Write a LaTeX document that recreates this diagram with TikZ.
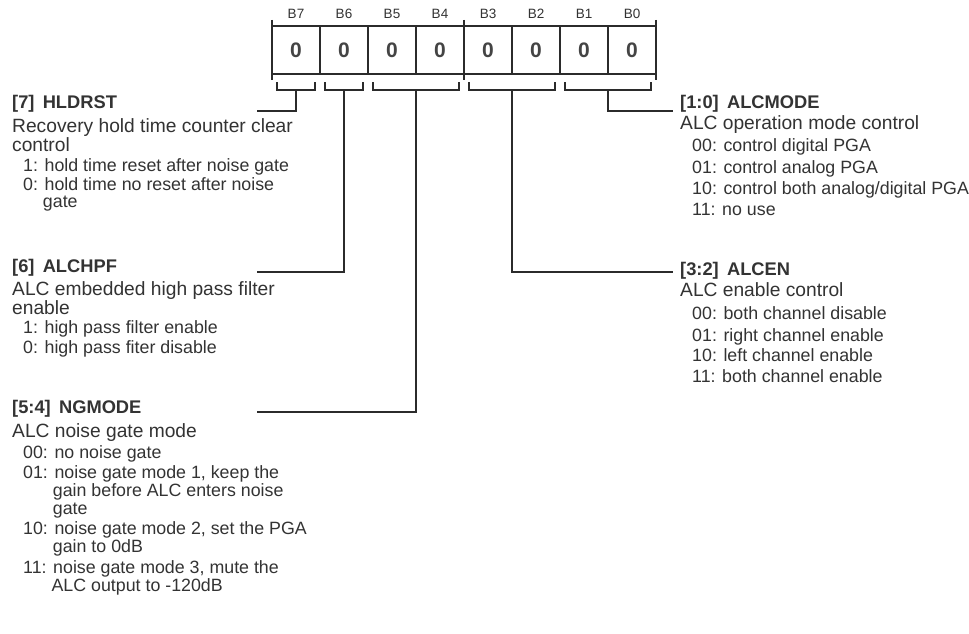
\documentclass[tikz,border=0pt]{standalone}
\usepackage{fontspec}
\setmainfont{Liberation Sans}
\definecolor{txt}{HTML}{333333}
\definecolor{ln}{HTML}{2B2B2B}
\definecolor{dig}{HTML}{444444}
\begin{document}
\begin{tikzpicture}[x=1pt,y=-1pt,
  hdr/.style={anchor=base west,inner sep=0pt,text=txt,font=\bfseries\fontsize{18.3}{20}\selectfont},
  dsc/.style={anchor=base west,inner sep=0pt,text=txt,font=\fontsize{19.2}{20}\selectfont},
  itm/.style={anchor=base west,inner sep=0pt,text=txt,font=\fontsize{17.8}{20}\selectfont},
  bitlbl/.style={inner sep=0pt,text=txt,font=\fontsize{13.5}{14}\selectfont},
  cell/.style={draw=ln,line width=1.2pt,minimum width=48pt,minimum height=48pt,inner sep=0pt,text=dig,font=\bfseries\fontsize{21}{22}\selectfont},
  wire/.style={draw=ln,line width=1.2pt}]
\fill[white] (0,0) rectangle (969,634);
\useasboundingbox (0,0) rectangle (969,634);

% bit labels
\node[bitlbl] (b7) at (296,14) {B7};
\node[bitlbl] (b6) at (344,14) {B6};
\node[bitlbl] (b5) at (392,14) {B5};
\node[bitlbl] (b4) at (440,14) {B4};
\node[bitlbl] (b3) at (488,14) {B3};
\node[bitlbl] (b2) at (536,14) {B2};
\node[bitlbl] (b1) at (584,14) {B1};
\node[bitlbl] (b0) at (632,14) {B0};

% register cells
\node[cell] (c7) at (296,50) {0};
\node[cell] (c6) at (344,50) {0};
\node[cell] (c5) at (392,50) {0};
\node[cell] (c4) at (440,50) {0};
\node[cell] (c3) at (488,50) {0};
\node[cell] (c2) at (536,50) {0};
\node[cell] (c1) at (584,50) {0};
\node[cell] (c0) at (632,50) {0};

% group ticks
\draw[wire] (272,20) -- (272,80);
\draw[wire] (464,20) -- (464,80);
\draw[wire] (656,20) -- (656,80);

% brackets
\draw[wire] (277,82) -- (277,90) -- (315,90) -- (315,82);
\draw[wire] (325,82) -- (325,90) -- (363,90) -- (363,82);
\draw[wire] (373,82) -- (373,90) -- (459,90) -- (459,82);
\draw[wire] (469,82) -- (469,90) -- (555,90) -- (555,82);
\draw[wire] (565,82) -- (565,90) -- (651,90) -- (651,82);

% connector coordinates
\coordinate (s7) at (296,90);
\coordinate (s6) at (344,90);
\coordinate (s54) at (416,90);
\coordinate (s32) at (512,90);
\coordinate (s10) at (608,90);
\coordinate (e7) at (257,111);
\coordinate (e6) at (257,272);
\coordinate (e54) at (257,412);
\coordinate (e32) at (673,272);
\coordinate (e10) at (673,111);

\draw[wire] (s7) |- (e7);
\draw[wire] (s6) |- (e6);
\draw[wire] (s54) |- (e54);
\draw[wire] (s32) |- (e32);
\draw[wire] (s10) |- (e10);

% [7] HLDRST
\node[hdr] (h7) at (12,108) {[7]\hspace{0.45em}HLDRST};
\node[dsc] (d7a) at (12,132) {Recovery hold time counter clear};
\node[dsc] (d7b) at (12,151) {control};
\node[itm] (i7a) at (23,171) {1: hold time reset after noise gate};
\node[itm] (i7b) at (23,190) {0: hold time no reset after noise};
\node[itm] (i7c) at (23,207) {\phantom{0:} gate};

% [6] ALCHPF
\node[hdr] (h6) at (12,272) {[6]\hspace{0.45em}ALCHPF};
\node[dsc] (d6a) at (12,295) {ALC embedded high pass filter};
\node[dsc] (d6b) at (12,314) {enable};
\node[itm] (i6a) at (23,333) {1: high pass filter enable};
\node[itm] (i6b) at (23,353) {0: high pass fiter disable};

% [5:4] NGMODE
\node[hdr] (h54) at (12,413) {[5:4]\hspace{0.45em}NGMODE};
\node[dsc] (d54) at (12,437) {ALC noise gate mode};
\node[itm] (i54a) at (23,458) {00: no noise gate};
\node[itm] (i54b) at (23,478) {01: noise gate mode 1, keep the};
\node[itm] (i54c) at (23,496) {\phantom{01:} gain before ALC enters noise};
\node[itm] (i54d) at (23,514) {\phantom{01:} gate};
\node[itm] (i54e) at (23,534) {10: noise gate mode 2, set the PGA};
\node[itm] (i54f) at (23,552) {\phantom{10:} gain to 0dB};
\node[itm] (i54g) at (23,573) {11: noise gate mode 3, mute the};
\node[itm] (i54h) at (23,591) {\phantom{11:} ALC output to -120dB};

% [1:0] ALCMODE
\node[hdr] (h10) at (680,108) {[1:0]\hspace{0.45em}ALCMODE};
\node[dsc] (d10) at (680,129) {ALC operation mode control};
\node[itm] (i10a) at (692,151) {00: control digital PGA};
\node[itm] (i10b) at (692,173) {01: control analog PGA};
\node[itm] (i10c) at (692,194) {10: control both analog/digital PGA};
\node[itm] (i10d) at (692,215) {11: no use};

% [3:2] ALCEN
\node[hdr] (h32) at (680,275) {[3:2]\hspace{0.45em}ALCEN};
\node[dsc] (d32) at (680,296) {ALC enable control};
\node[itm] (i32a) at (692,319) {00: both channel disable};
\node[itm] (i32b) at (692,341) {01: right channel enable};
\node[itm] (i32c) at (692,361) {10: left channel enable};
\node[itm] (i32d) at (692,382) {11: both channel enable};
\end{tikzpicture}
\end{document}
